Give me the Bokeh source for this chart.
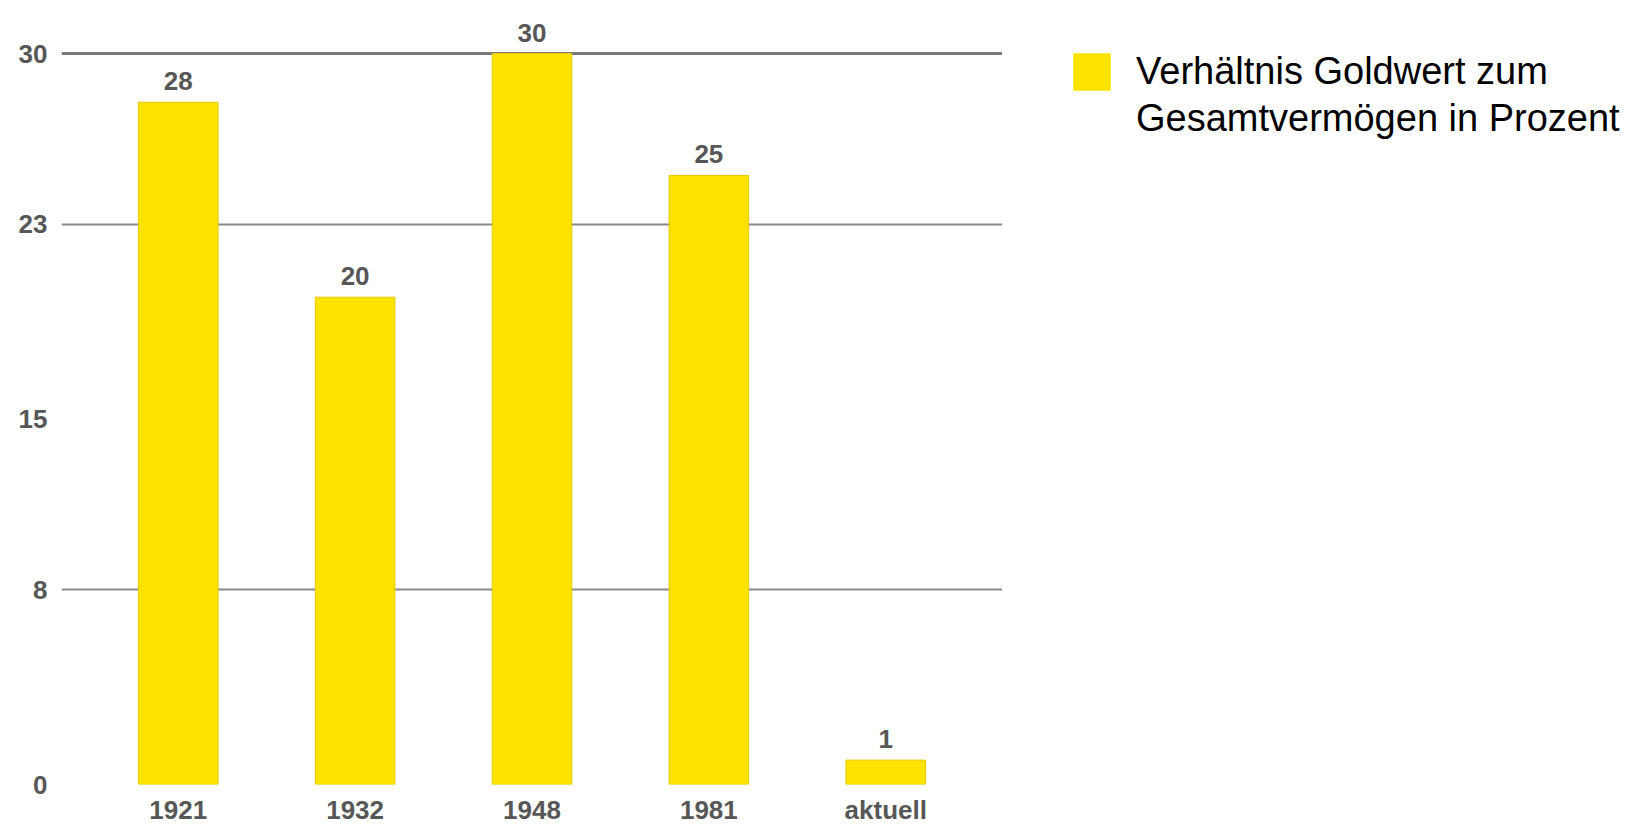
from bokeh.plotting import figure
from bokeh.layouts import row
from bokeh.models import (ColumnDataSource, FactorRange, Range1d, FixedTicker, LabelSet,
                          Legend, LegendItem, Grid)
from bokeh.core.properties import value
from bokeh.embed import file_html
from bokeh.resources import INLINE

# ---- data ----
categories = ["1921", "1932", "1948", "1981", "aktuell"]
values = [28, 20, 30, 25, 1]
value_labels = ["28", "20", "30", "25", "1"]
y_ticks = [0, 8, 15, 23, 30]
series_name_lines = ["Verhältnis Goldwert zum", "Gesamtvermögen in Prozent"]

FONT = "Liberation Sans"
LABEL_GREY = "#575757"
GOLD = "#FFE300"
BAR_EDGE = "#E6C800"

src = ColumnDataSource(dict(cat=categories, val=values, lab=value_labels))

p = figure(
    width=1002, height=829,
    x_range=FactorRange(factors=categories, range_padding=0.16, range_padding_units="absolute"),
    y_range=Range1d(0, 31.56),
    output_backend="svg", toolbar_location=None,
    min_border_left=61, min_border_right=0, min_border_top=15, min_border_bottom=45,
)
p.outline_line_color = None
p.background_fill_color = "white"

p.vbar(x="cat", top="val", bottom=0, width=0.45, source=src,
       fill_color=GOLD, line_color=BAR_EDGE, line_width=1)

# grids
p.xgrid.visible = False
p.ygrid.ticker = FixedTicker(ticks=[8, 23])
p.ygrid.grid_line_color = "#8a8a8a"
p.ygrid.grid_line_width = 2
top_grid = Grid(dimension=1, ticker=FixedTicker(ticks=[30]),
                grid_line_color="#7a7a7a", grid_line_width=3)
p.add_layout(top_grid)

# axes
for ax in (p.xaxis[0], p.yaxis[0]):
    ax.axis_line_color = None
    ax.major_tick_line_color = None
    ax.minor_tick_line_color = None
    ax.major_tick_out = 0
    ax.major_tick_in = 0
    ax.minor_tick_out = 0
    ax.major_label_text_font = FONT
    ax.major_label_text_font_style = "bold"
    ax.major_label_text_font_size = "26px"
    ax.major_label_text_color = LABEL_GREY
p.yaxis.ticker = FixedTicker(ticks=y_ticks)
p.yaxis.major_label_standoff = 14
p.xaxis.major_label_standoff = 10

# value labels
labels = LabelSet(x="cat", y="val", text="lab", source=src, y_offset=12,
                  text_align="center", text_baseline="bottom",
                  text_font=value(FONT), text_font_style="bold", text_font_size="26px",
                  text_color=LABEL_GREY)
p.add_layout(labels)

# ---- legend panel (separate figure to the right; its proxy marks are zero-sized) ----
lp = figure(width=637, height=829, output_backend="svg", toolbar_location=None,
            min_border=0, x_range=FactorRange(factors=categories),
            y_range=Range1d(1000, 1001))
lp.outline_line_color = None
lp.axis.visible = False
lp.grid.visible = False
key = lp.rect(x="cat", y="val", width=0, height=0, source=src,
              fill_color=GOLD, line_color=None)
wrap = lp.rect(x="cat", y="val", width=0, height=0, source=src,
               fill_alpha=0, line_alpha=0)
legend = Legend(items=[LegendItem(label=series_name_lines[0], renderers=[key]),
                       LegendItem(label=series_name_lines[1], renderers=[wrap])],
                location=(66, 642), padding=0, margin=0, spacing=0,
                glyph_width=47, glyph_height=47, label_standoff=21,
                label_text_font=FONT, label_text_font_size="38px",
                label_text_color="black", border_line_color=None,
                background_fill_alpha=0)
lp.add_layout(legend, "center")

layout = row(p, lp)
open("out.html", "w").write(file_html(layout, INLINE))
